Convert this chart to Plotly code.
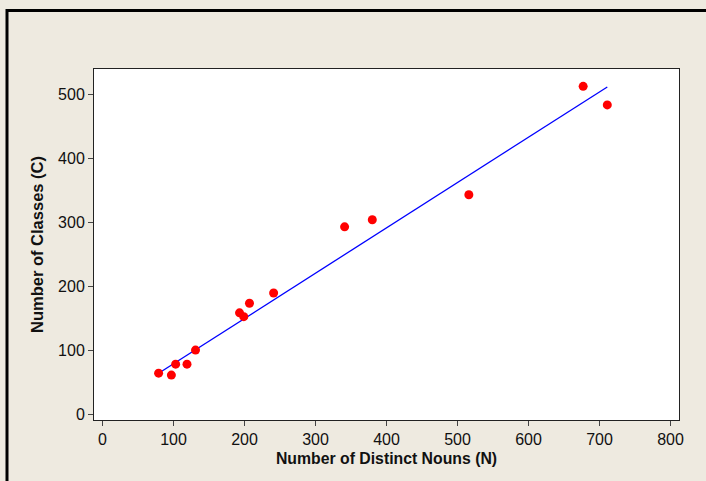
import plotly.graph_objects as go

# Observed counts per sample: distinct nouns (N) vs. classes (C)
nouns = [79, 97, 103, 119, 131, 193, 199, 207, 241, 341, 380, 516, 677, 711]
classes = [65, 62, 79, 79, 101, 159, 153, 174, 190, 293, 304, 343, 512, 483]

# Fitted straight line C = intercept + slope * N
fit_intercept = 9.0
fit_slope = 0.706

x_ticks = [0, 100, 200, 300, 400, 500, 600, 700, 800]
y_ticks = [0, 100, 200, 300, 400, 500]

FONT = "Liberation Sans, Arial, sans-serif"

line_x = [min(nouns), max(nouns)]
line_y = [fit_intercept + fit_slope * v for v in line_x]

fig = go.Figure()
fig.add_trace(go.Scatter(
    x=line_x, y=line_y, mode="lines",
    line=dict(color="#0000FF", width=1.3),
    hoverinfo="skip", showlegend=False,
))
fig.add_trace(go.Scatter(
    x=nouns, y=classes, mode="markers",
    marker=dict(color="#FF0000", size=9, line=dict(width=0)),
    showlegend=False,
))

axis_common = dict(
    showgrid=False, zeroline=False,
    showline=True, linecolor="#222222", linewidth=1, mirror=True,
    ticks="outside", ticklen=5, tickwidth=1, tickcolor="#444444",
    tickfont=dict(family=FONT, size=16, color="#111111"),
)

fig.update_layout(
    width=706, height=481,
    margin=dict(l=94, r=27, t=69, b=61),
    paper_bgcolor="#EEEAE0",
    plot_bgcolor="#FFFFFF",
    xaxis=dict(
        axis_common, range=[-12, 812], tickvals=x_ticks,
        title=dict(text="<b>Number of Distinct Nouns (N)</b>", standoff=5,
                   font=dict(family=FONT, size=15.8, color="#111111")),
    ),
    yaxis=dict(
        axis_common, range=[-8, 539], tickvals=y_ticks,
        title=dict(text="<b>Number of Classes (C)</b>", standoff=10,
                   font=dict(family=FONT, size=16.5, color="#111111")),
    ),
    shapes=[
        # outer frame: top and left edges
        dict(type="line", xref="paper", yref="paper",
             x0=(7 - 94) / 585, x1=(720 - 94) / 585,
             y0=(420 - 10.5) / 351, y1=(420 - 10.5) / 351,
             line=dict(color="#000000", width=3)),
        dict(type="line", xref="paper", yref="paper",
             x0=(7 - 94) / 585, x1=(7 - 94) / 585,
             y0=(420 - 9) / 351, y1=(420 - 490) / 351,
             line=dict(color="#000000", width=3)),
    ],
)

fig.write_html("out.html")
